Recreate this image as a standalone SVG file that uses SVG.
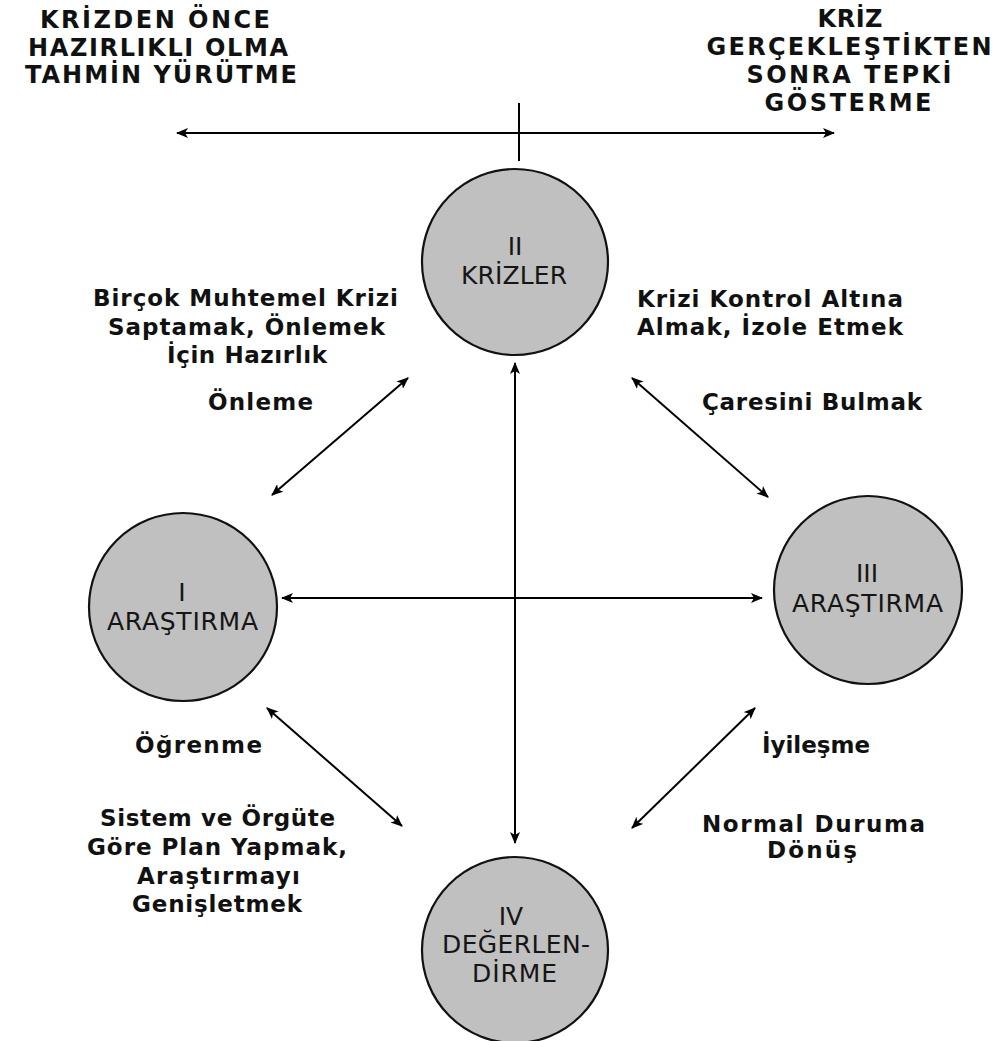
<svg xmlns="http://www.w3.org/2000/svg" width="993" height="1041" viewBox="0 0 993 1041">
<defs>
<marker id="ah" viewBox="0 0 12 10" refX="11" refY="5" markerWidth="12" markerHeight="10" markerUnits="userSpaceOnUse" orient="auto-start-reverse">
<path d="M0,0 L12,5 L0,10 L3,5 Z" fill="#000"/>
</marker>
<style>
.node{fill:#c0c0c0;stroke:#111;stroke-width:2.2}
.nt{font-family:"DejaVu Sans","Open Sans",sans-serif;font-size:25px;fill:#151515;text-anchor:middle}
.lb{font-family:"DejaVu Sans","Open Sans",sans-serif;font-weight:bold;font-size:23px;fill:#111;text-anchor:middle}
.hd{font-family:"DejaVu Sans","Open Sans",sans-serif;font-weight:bold;font-size:24px;fill:#111;text-anchor:middle}
.ln{stroke:#000;stroke-width:2;fill:none}
</style>
</defs>
<rect width="993" height="1041" fill="#fff"/>
<g id="header">
<text class="hd" x="155" y="28" textLength="230">KRİZDEN ÖNCE</text>
<text class="hd" x="158" y="56" textLength="260">HAZIRLIKLI OLMA</text>
<text class="hd" x="161" y="83" textLength="272">TAHMİN YÜRÜTME</text>
<text class="hd" x="850" y="27" textLength="65">KRİZ</text>
<text class="hd" x="849" y="55" textLength="285">GERÇEKLEŞTİKTEN</text>
<text class="hd" x="849" y="83" textLength="205">SONRA TEPKİ</text>
<text class="hd" x="848" y="111" textLength="167">GÖSTERME</text>
</g>
<g id="connectors">
<line class="ln" x1="177" y1="133" x2="834" y2="133" marker-start="url(#ah)" marker-end="url(#ah)"/>
<line class="ln" x1="519" y1="103" x2="519" y2="161"/>
<line class="ln" x1="515" y1="363" x2="515" y2="843" marker-start="url(#ah)" marker-end="url(#ah)"/>
<line class="ln" x1="282" y1="598" x2="762" y2="598" marker-start="url(#ah)" marker-end="url(#ah)"/>
<line class="ln" x1="272" y1="495" x2="408" y2="378" marker-start="url(#ah)" marker-end="url(#ah)"/>
<line class="ln" x1="632" y1="378" x2="768" y2="497" marker-start="url(#ah)" marker-end="url(#ah)"/>
<line class="ln" x1="267" y1="708" x2="402" y2="826" marker-start="url(#ah)" marker-end="url(#ah)"/>
<line class="ln" x1="755" y1="708" x2="632" y2="828" marker-start="url(#ah)" marker-end="url(#ah)"/>
</g>
<g id="node-ii">
<circle class="node" cx="515" cy="262" r="93"/>
<text class="nt" x="515" y="255">II</text>
<text class="nt" x="514" y="284" textLength="106">KRİZLER</text>
</g>
<g id="node-i">
<circle class="node" cx="183" cy="607" r="94"/>
<text class="nt" x="182" y="601">I</text>
<text class="nt" x="182.5" y="630" textLength="151">ARAŞTIRMA</text>
</g>
<g id="node-iii">
<circle class="node" cx="868" cy="590" r="94"/>
<text class="nt" x="867" y="582">III</text>
<text class="nt" x="867.5" y="612" textLength="151">ARAŞTIRMA</text>
</g>
<g id="node-iv">
<circle class="node" cx="515" cy="950" r="93"/>
<text class="nt" x="511" y="925">IV</text>
<text class="nt" x="516" y="953" textLength="148">DEĞERLEN-</text>
<text class="nt" x="514.5" y="982" textLength="85">DİRME</text>
</g>
<g id="labels">
<text class="lb" x="245.5" y="306" textLength="305">Birçok Muhtemel Krizi</text>
<text class="lb" x="246.5" y="335" textLength="277">Saptamak, Önlemek</text>
<text class="lb" x="247" y="363" textLength="160">İçin Hazırlık</text>
<text class="lb" x="260.5" y="410" textLength="105">Önleme</text>
<text class="lb" x="770" y="307" textLength="266">Krizi Kontrol Altına</text>
<text class="lb" x="770" y="335" textLength="266">Almak, İzole Etmek</text>
<text class="lb" x="812" y="410" textLength="220">Çaresini Bulmak</text>
<text class="lb" x="198.5" y="753" textLength="127">Öğrenme</text>
<text class="lb" x="217.5" y="826" textLength="235">Sistem ve Örgüte</text>
<text class="lb" x="217" y="855" textLength="260">Göre Plan Yapmak,</text>
<text class="lb" x="218.5" y="884" textLength="163">Araştırmayı</text>
<text class="lb" x="217" y="912" textLength="170">Genişletmek</text>
<text class="lb" x="816" y="753" textLength="108">İyileşme</text>
<text class="lb" x="813.5" y="832" textLength="223">Normal Duruma</text>
<text class="lb" x="812" y="858" textLength="90">Dönüş</text>
</g>
</svg>
